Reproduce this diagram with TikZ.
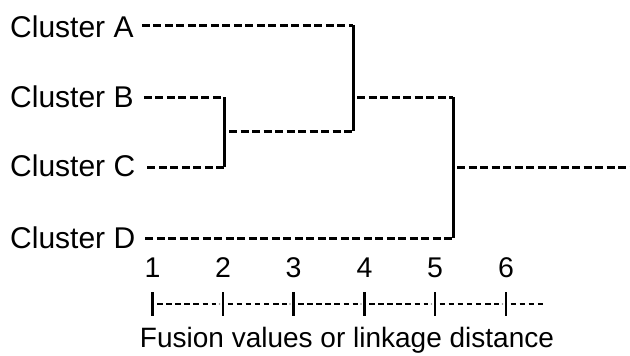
\documentclass[tikz,border=0pt]{standalone}
\usepackage{fontspec}
\setmainfont{Liberation Sans}
\begin{document}
\begin{tikzpicture}[x=1pt,y=-1pt,
  lbl/.style={anchor=west,inner sep=0pt,font=\fontsize{30}{34}\selectfont},
  num/.style={inner sep=0pt,font=\fontsize{28.5}{32}\selectfont},
  caption/.style={inner sep=0pt,font=\fontsize{28}{32}\selectfont},
  branch/.style={line width=3pt,dash pattern=on 8pt off 3.5pt},
  stem/.style={line width=3pt},
  tick/.style={line width=2.6pt},
  scale dash/.style={line width=2pt,dash pattern=on 5.5pt off 3.6pt}]
\useasboundingbox (0,0) rectangle (630,356);

% cluster labels
\node[lbl] (A) at (10,27) {Cluster A};
\node[lbl] (B) at (10,97) {Cluster B};
\node[lbl] (C) at (10,166) {Cluster C};
\node[lbl] (D) at (10,238) {Cluster D};

% join points of the tree
\coordinate (bc1) at (224,97);
\coordinate (bc2) at (224,167);
\coordinate (bcOut) at (229,131);
\coordinate (abc0) at (353,131);
\coordinate (abc1) at (353,25);
\coordinate (abcOut) at (357,97);
\coordinate (all0) at (453,97);
\coordinate (all1) at (453,238);
\coordinate (allOut) at (457,167);
\coordinate (root) at (630,167);

% leaves
\draw[branch] ([xshift=8pt]A.east |- abc1) -- (abc1);
\draw[branch] ([xshift=10pt]B.east |- bc1) -- (bc1);
\draw[branch] ([xshift=12pt]C.east |- bc2) -- (bc2);
\draw[branch] ([xshift=10pt]D.east |- all1) -- (all1);

% merges
\draw[stem] (bc1) -- (bc2);
\draw[branch] (bcOut) -- (abc0);
\draw[stem] (abc1) -- (abc0);
\draw[branch] (abcOut) -- (all0);
\draw[stem] (all0) -- (all1);
\draw[branch] (allOut) -- (root);

% distance scale
\foreach \i/\x in {1/152.5,2/223,3/293.5,4/364.5,5/435,6/506}{
  \node[num] (n\i) at (\x,268) {\i};
  \coordinate (t\i) at (\x,304);
  \draw[tick] (\x,292) -- (\x,316);
}
\coordinate (tend) at (545,304);
\foreach \a/\b in {1/2,2/3,3/4,4/5,5/6}{
  \draw[scale dash] ([xshift=4.5pt]t\a) -- ([xshift=-7pt]t\b);
  \fill[black!45] ([xshift=-3.5pt]t\b) circle (0.9pt);
}
\draw[scale dash] ([xshift=4.5pt]t6) -- (tend);

\node[caption] (axis) at (347,340) {Fusion values or linkage distance};
\end{tikzpicture}
\end{document}
